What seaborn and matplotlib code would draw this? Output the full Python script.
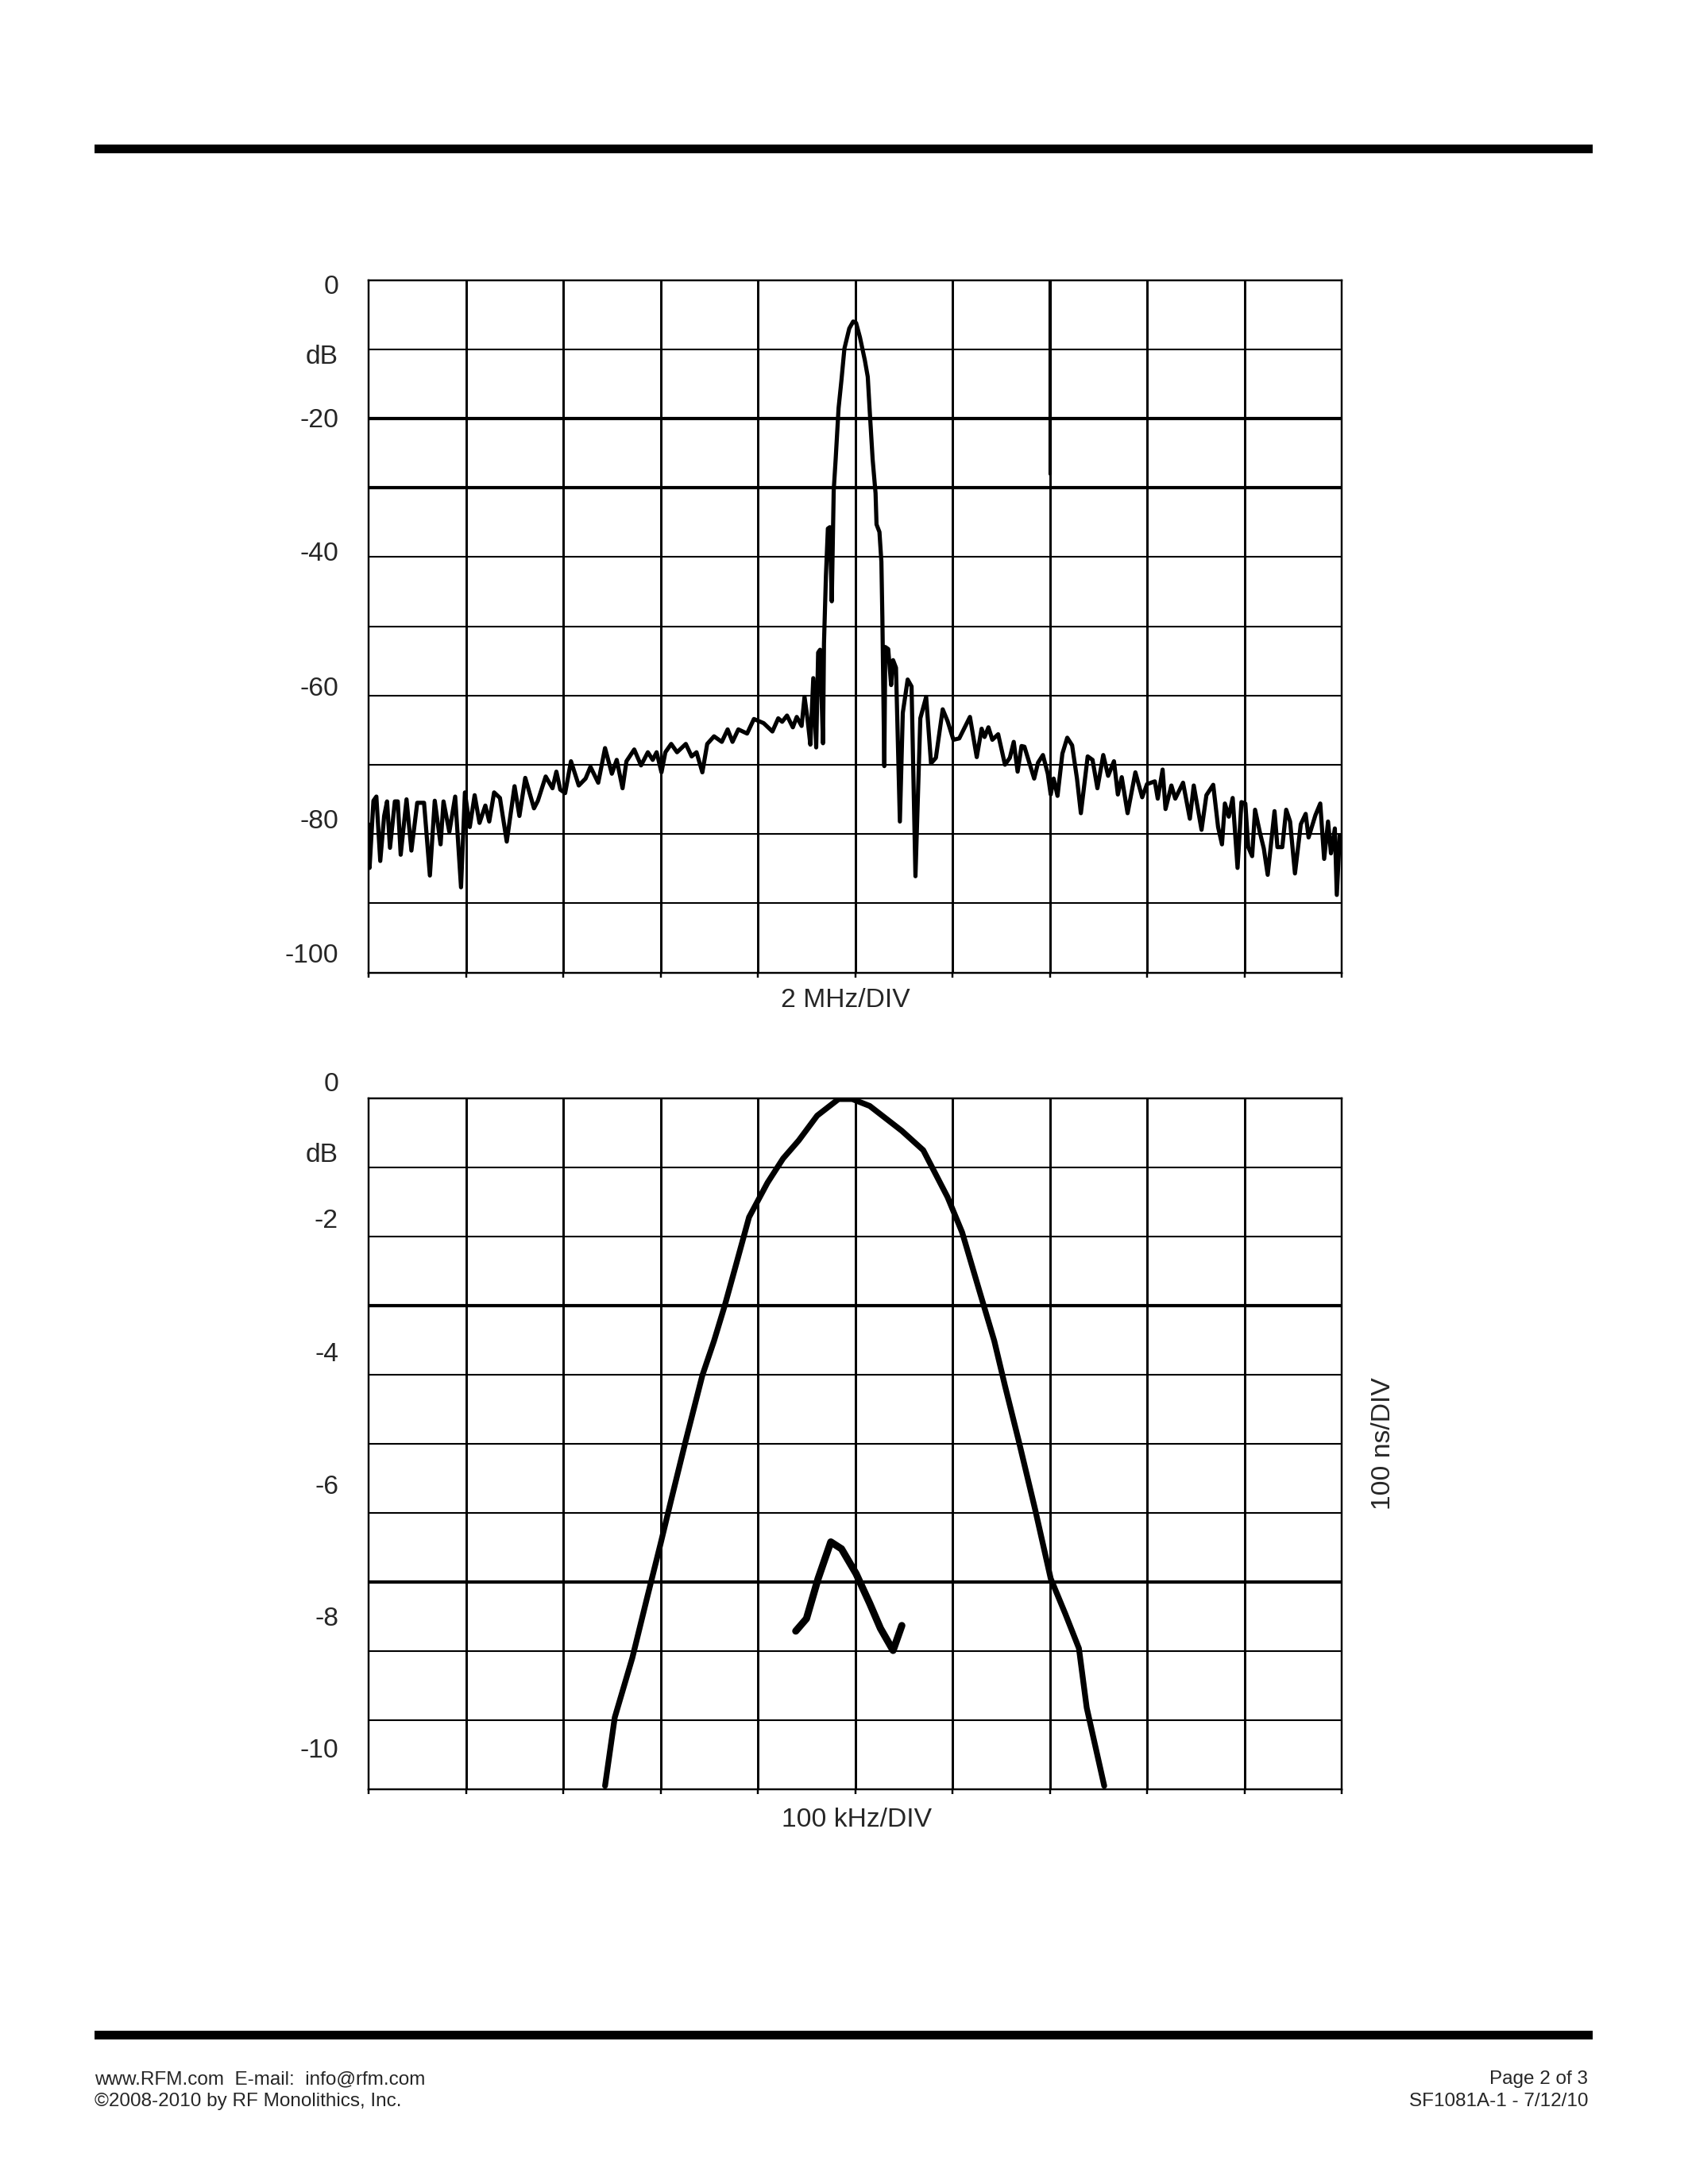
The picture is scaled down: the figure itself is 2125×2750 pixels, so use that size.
import numpy as np
import pandas as pd
import seaborn as sns
import matplotlib.pyplot as plt
from matplotlib.patches import Rectangle

''' DATA '''
# wideband response, x in divisions (2 MHz/DIV), y in dB
wide_div = [0.00, 0.01, 0.05, 0.08, 0.12, 0.16, 0.19, 0.22, 0.27, 0.30, 0.33, 0.39, 0.44, 0.50,
            0.57, 0.63, 0.68, 0.74, 0.77, 0.83, 0.89, 0.95, 0.99, 1.04, 1.09, 1.14, 1.20, 1.24,
            1.29, 1.35, 1.42, 1.50, 1.55, 1.61, 1.70, 1.74, 1.82, 1.89, 1.93, 1.97, 2.02, 2.08,
            2.16, 2.23, 2.28, 2.36, 2.43, 2.50, 2.55, 2.61, 2.65, 2.73, 2.80, 2.87, 2.92, 2.96,
            3.01, 3.05, 3.11, 3.17, 3.26, 3.32, 3.37, 3.43, 3.48, 3.55, 3.63, 3.69, 3.74, 3.80,
            3.89, 3.96, 4.06, 4.15, 4.21, 4.25, 4.30, 4.36, 4.40, 4.45, 4.48, 4.51, 4.54, 4.57,
            4.60, 4.62, 4.64, 4.67, 4.68, 4.70, 4.72, 4.74, 4.76, 4.78, 4.80, 4.83, 4.86, 4.89,
            4.94, 4.98, 5.01, 5.05, 5.10, 5.13, 5.15, 5.18, 5.21, 5.22, 5.25, 5.27, 5.28, 5.30,
            5.31, 5.34, 5.37, 5.39, 5.42, 5.46, 5.49, 5.54, 5.58, 5.62, 5.67, 5.73, 5.78, 5.83,
            5.90, 5.95, 6.01, 6.07, 6.18, 6.25, 6.30, 6.33, 6.37, 6.41, 6.47, 6.54, 6.59, 6.63,
            6.67, 6.71, 6.74, 6.84, 6.88, 6.93, 6.98, 7.01, 7.04, 7.08, 7.13, 7.18, 7.23, 7.28,
            7.32, 7.39, 7.44, 7.49, 7.55, 7.60, 7.66, 7.70, 7.74, 7.80, 7.88, 7.95, 8.00, 8.08,
            8.11, 8.16, 8.19, 8.25, 8.29, 8.37, 8.44, 8.48, 8.56, 8.61, 8.68, 8.73, 8.77, 8.80,
            8.84, 8.88, 8.93, 8.97, 9.01, 9.04, 9.08, 9.11, 9.16, 9.20, 9.24, 9.31, 9.34, 9.39,
            9.43, 9.47, 9.52, 9.58, 9.63, 9.66, 9.73, 9.78, 9.82, 9.86, 9.89, 9.93, 9.95, 9.98,
            10.00]
wide_db = [-78.6, -84.9, -75.2, -74.6, -83.9, -77.4, -75.3, -82.0, -75.3, -75.3, -83.0, -75.0, -82.4, -75.5,
           -75.5, -86.0, -75.2, -81.5, -75.3, -79.7, -74.6, -87.7, -74.0, -79.0, -74.4, -78.4, -75.9, -78.2,
           -74.0, -74.8, -81.1, -73.1, -77.4, -71.9, -76.3, -75.2, -71.7, -73.4, -71.0, -73.6, -74.1, -69.5,
           -73.0, -72.0, -70.3, -72.6, -67.6, -71.3, -69.3, -73.4, -69.5, -67.8, -70.1, -68.2, -69.3, -68.2,
           -71.1, -68.2, -67.0, -68.2, -67.0, -68.8, -68.2, -71.1, -67.0, -65.9, -66.7, -64.9, -66.7, -64.9,
           -65.5, -63.4, -64.0, -65.2, -63.3, -63.8, -62.9, -64.6, -63.1, -64.4, -60.2, -63.3, -67.1, -57.5,
           -67.5, -53.8, -53.4, -66.9, -52.5, -42.7, -35.9, -35.7, -46.4, -30.4, -25.9, -18.5, -14.4, -9.9,
           -7.0, -6.0, -6.2, -8.3, -11.6, -14.0, -18.9, -25.9, -30.8, -35.3, -36.4, -40.7, -48.7, -70.2,
           -53.0, -53.3, -58.5, -54.9, -56.0, -78.2, -62.5, -57.7, -58.7, -86.1, -63.3, -60.2, -69.8, -69.0,
           -62.0, -63.7, -66.4, -66.2, -63.1, -68.9, -64.8, -66.0, -64.6, -66.4, -65.6, -70.0, -69.0, -66.7,
           -71.0, -67.3, -67.4, -72.0, -69.7, -68.6, -71.3, -74.3, -72.0, -74.5, -68.4, -66.1, -67.2, -72.0,
           -77.0, -68.8, -69.3, -73.4, -68.6, -71.6, -69.5, -74.3, -71.8, -77.0, -71.1, -74.7, -72.8, -72.4,
           -74.9, -70.7, -76.4, -73.0, -74.9, -72.6, -77.8, -73.0, -79.4, -74.4, -72.9, -79.0, -81.5, -75.6,
           -77.5, -74.8, -84.9, -75.4, -75.6, -81.9, -83.2, -76.5, -79.8, -82.1, -85.9, -76.7, -81.9, -81.9,
           -76.5, -78.2, -85.7, -78.6, -77.1, -80.5, -77.3, -75.6, -83.6, -78.2, -82.8, -79.2, -88.8, -80.2,
           -80.5]

# passband response, x in divisions (100 kHz/DIV), y in dB
pass_div = [2.43, 2.53, 2.71, 2.86, 3.00, 3.11, 3.26, 3.43, 3.55, 3.66, 3.77, 3.91, 4.10, 4.26,
            4.42, 4.61, 4.83, 4.97, 5.15, 5.48, 5.70, 5.95, 6.10, 6.28, 6.43, 6.54, 6.68, 6.85,
            7.01, 7.16, 7.30, 7.38, 7.56]
pass_db = [-9.95, -8.96, -8.10, -7.24, -6.45, -5.81, -4.95, -4.01, -3.51, -3.00, -2.44, -1.72, -1.22, -0.87,
           -0.61, -0.25, -0.01, -0.01, -0.11, -0.47, -0.75, -1.43, -1.94, -2.80, -3.51, -4.16, -4.95, -5.95,
           -6.95, -7.46, -7.96, -8.82, -9.95]

# group delay trace (100 ns/DIV), drawn on the same grid
gd_div = [4.39, 4.50, 4.62, 4.75, 4.86, 5.01, 5.15, 5.26, 5.39, 5.48]
gd_val = [-7.71, -7.53, -6.95, -6.42, -6.52, -6.88, -7.31, -7.67, -7.99, -7.63]

top_labels = ['0', 'dB', '-20', '-40', '-60', '-80', '-100']
bot_labels = ['0', 'dB', '-2', '-4', '-6', '-8', '-10']

wide_df = pd.DataFrame({'div': wide_div, 'db': wide_db})
pass_df = pd.DataFrame({'div': pass_div, 'db': pass_db})
gd_df = pd.DataFrame({'div': gd_div, 'val': gd_val})

''' PLOT '''
sns.set_theme(style='white')
plt.rcParams['font.family'] = ['Liberation Sans', 'DejaVu Sans']

W, H = 2125, 2750
fig = plt.figure(figsize=(8.5, 11), dpi=250)
ax1 = fig.add_axes([464 / W, 1 - 1224.5 / H, 1225 / W, 872 / H])
ax2 = fig.add_axes([464 / W, 1 - 2253 / H, 1225 / W, 870 / H])


def style_grid(ax, ymin, step, thick_rows):
    ax.set_xlim(0, 10)
    ax.set_ylim(ymin, 0)
    ax.set_xticks(range(11))
    ax.set_yticks(np.arange(ymin, 0.01, step))
    ax.set_xticklabels([])
    ax.set_yticklabels([])
    ax.grid(False)
    for v in range(1, 10):
        ax.axvline(v, color='black', lw=0.85, zorder=1)
    for r in np.arange(ymin + step, 0, step):
        lw = 1.2 if any(abs(r - t) < 1e-6 for t in thick_rows) else 0.6
        ax.axhline(r, color='black', lw=lw, zorder=1)
    ax.tick_params(axis='x', which='major', bottom=True, direction='out', length=1.8,
                   width=0.7, color='black')
    ax.tick_params(axis='y', length=0)
    for s in ax.spines.values():
        s.set_color('black')
        s.set_linewidth(0.7)
    ax.set_xlabel('')
    ax.set_ylabel('')


sns.lineplot(data=wide_df, x='div', y='db', ax=ax1, color='black', linewidth=1.5,
             sort=False, estimator=None, zorder=3)
style_grid(ax1, -100, 10, [-20, -30])
ax1.plot([7, 7], [0, -28], color='black', lw=1.2, zorder=1)

sns.lineplot(data=pass_df, x='div', y='db', ax=ax2, color='black', linewidth=2.1,
             sort=False, estimator=None, zorder=3)
sns.lineplot(data=gd_df, x='div', y='val', ax=ax2, color='black', linewidth=2.6,
             sort=False, estimator=None, zorder=3)
style_grid(ax2, -10, 1, [-3, -7])

# y labels (scanned page places them slightly off the grid lines)
top_pos = [0.990, 0.889, 0.797, 0.604, 0.409, 0.218, 0.024]
bot_pos = [1.020, 0.918, 0.822, 0.629, 0.437, 0.246, 0.056]
for lab, p in zip(top_labels, top_pos):
    ax1.text(-0.031, p, lab, transform=ax1.transAxes, ha='right', va='center', fontsize=9.7)
for lab, p in zip(bot_labels, bot_pos):
    ax2.text(-0.031, p, lab, transform=ax2.transAxes, ha='right', va='center', fontsize=9.7)

fig.text(1064 / W, 1 - 1259 / H, '2 MHz/DIV', ha='center', va='center', fontsize=9.7)
fig.text(1078 / W, 1 - 2292 / H, '100 kHz/DIV', ha='center', va='center', fontsize=9.7)
fig.text(1741 / W, 1 - 1818 / H, '100 ns/DIV', ha='center', va='center', fontsize=9.7,
         rotation=90)

# page furniture
fig.add_artist(Rectangle((119 / W, 1 - 193 / H), 1886 / W, 11 / H, transform=fig.transFigure,
                         color='black', lw=0))
fig.add_artist(Rectangle((119 / W, 1 - 2568 / H), 1886 / W, 11 / H, transform=fig.transFigure,
                         color='black', lw=0))
fig.text(119 / W, 1 - 2618 / H, 'www.RFM.com  E-mail:  info@rfm.com', ha='left', va='center',
         fontsize=7)
fig.text(119 / W, 1 - 2646 / H, '\u00a92008-2010 by RF Monolithics, Inc.', ha='left',
         va='center', fontsize=7)
fig.text(1999 / W, 1 - 2618 / H, 'Page 2 of 3', ha='right', va='center', fontsize=7)
fig.text(1999 / W, 1 - 2646 / H, 'SF1081A-1 - 7/12/10', ha='right', va='center', fontsize=7)

fig.savefig('out.png', dpi=250, facecolor='white')
